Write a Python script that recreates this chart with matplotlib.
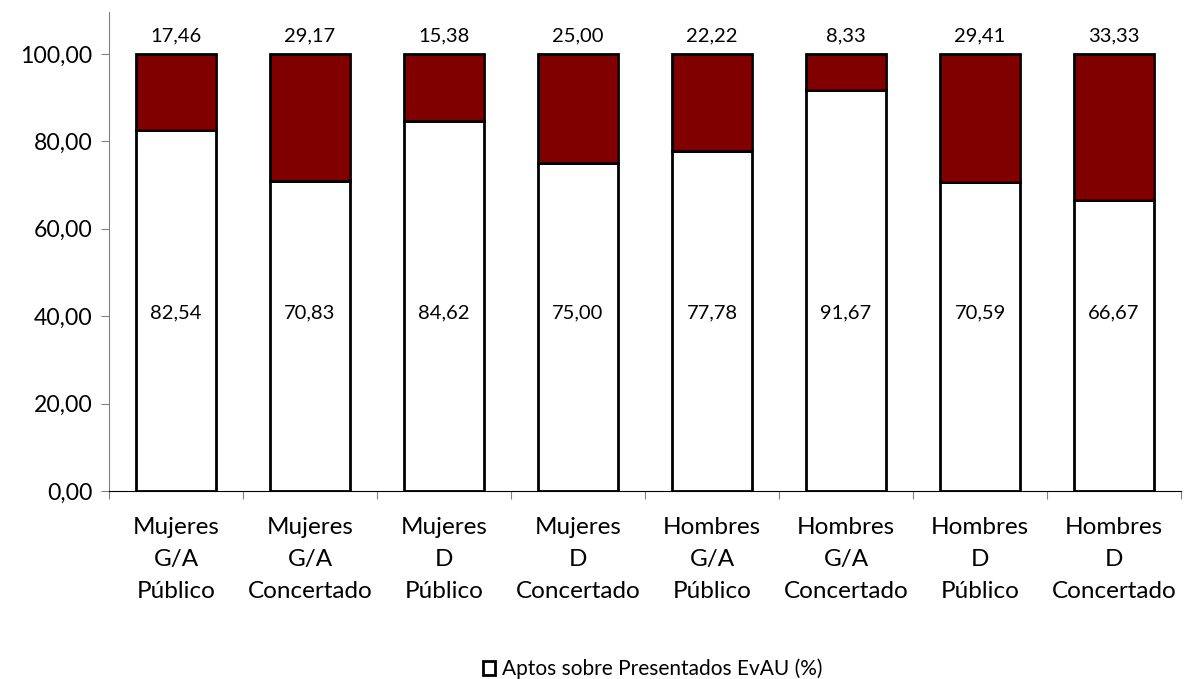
import matplotlib
matplotlib.use("Agg")
import matplotlib.pyplot as plt
from matplotlib.patches import Patch

categories = ["Mujeres\nG/A\nPúblico", "Mujeres\nG/A\nConcertado", "Mujeres\nD\nPúblico",
              "Mujeres\nD\nConcertado", "Hombres\nG/A\nPúblico", "Hombres\nG/A\nConcertado",
              "Hombres\nD\nPúblico", "Hombres\nD\nConcertado"]
aptos = [82.54, 70.83, 84.62, 75.00, 77.78, 91.67, 70.59, 66.67]
no_aptos = [17.46, 29.17, 15.38, 25.00, 22.22, 8.33, 29.41, 33.33]
yticks = [0, 20, 40, 60, 80, 100]

def fmt(v):
    return f"{v:.2f}".replace(".", ",")

plt.rcParams['font.family'] = ['Lato', 'DejaVu Sans']

fig = plt.figure(figsize=(11.86, 6.79), dpi=100)
ax = fig.add_axes([0.0919, 0.2769, 0.9039, 0.7054])

x = list(range(len(categories)))
ax.bar(x, aptos, width=0.6, color="white", edgecolor="black", linewidth=2.0, zorder=2)
ax.bar(x, no_aptos, bottom=aptos, width=0.6, color="#800000", edgecolor="black", linewidth=2.0, zorder=2)

for xi, a, n in zip(x, aptos, no_aptos):
    ax.text(xi, 40.8, fmt(a), ha="center", va="center", fontsize=14.5)
    ax.text(xi, 104.2, fmt(n), ha="center", va="center", fontsize=14.5)

ax.set_xlim(-0.5, len(categories) - 0.5)
ax.set_ylim(0, 109.6)
ax.set_yticks(yticks)
ax.set_yticklabels([fmt(v) for v in yticks], fontsize=16.6)
ax.set_xticks([i - 0.5 for i in range(len(categories) + 1)])
ax.set_xticklabels([])
ax.set_xticks(x, minor=True)
ax.set_xticklabels(categories, minor=True, fontsize=17.5, linespacing=1.65)
ax.tick_params(axis="x", which="minor", length=0, pad=19)
ax.tick_params(axis="x", which="major", length=6, direction="out", color="#808080")
ax.tick_params(axis="y", length=6, direction="out", color="#808080", pad=6)
for s in ["top", "right"]:
    ax.spines[s].set_visible(False)
ax.spines["left"].set_color("#808080")
ax.spines["bottom"].set_color("black")

handles = [Patch(facecolor="white", edgecolor="black", linewidth=2.0)]
fig.legend(handles, ["Aptos sobre Presentados EvAU (%)"], loc="center",
           bbox_to_anchor=(652.5 / 1186, 1 - 669 / 679), frameon=False, fontsize=15,
           handlelength=0.6, handleheight=0.6, handletextpad=0.3, borderpad=0, borderaxespad=0)

fig.savefig("out.png", dpi=100)
